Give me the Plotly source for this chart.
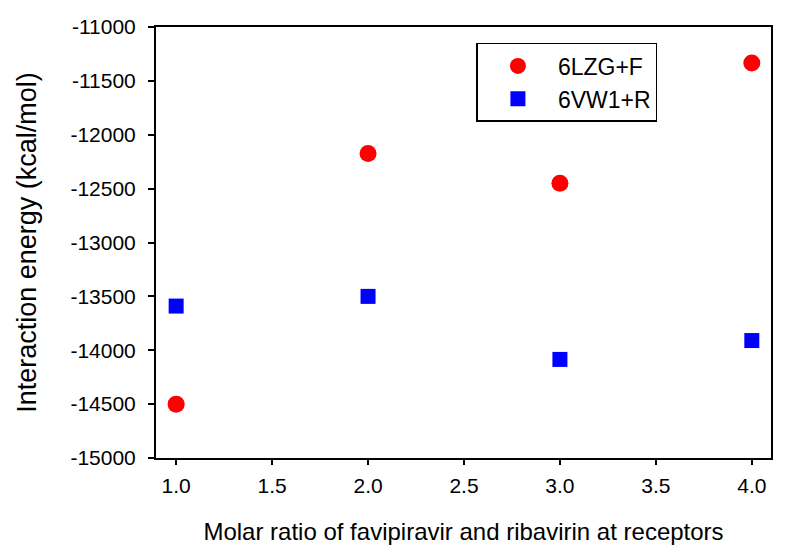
import plotly.graph_objects as go

ratios = [1.0, 2.0, 3.0, 4.0]
lzg_f = [-14500, -12175, -12450, -11335]
vw1_r = [-13590, -13500, -14085, -13910]
x_ticks = [1.0, 1.5, 2.0, 2.5, 3.0, 3.5, 4.0]
y_ticks = list(range(-15000, -10999, 500))

font_family = "Liberation Sans, Arial, sans-serif"

fig = go.Figure()
fig.add_trace(go.Scatter(x=ratios, y=lzg_f, mode="markers", name="6LZG+F",
                         marker=dict(symbol="circle", size=17, color="#ff0000")))
fig.add_trace(go.Scatter(x=ratios, y=vw1_r, mode="markers", name="6VW1+R",
                         marker=dict(symbol="square", size=15, color="#0000ff")))

fig.update_layout(
    width=797, height=559,
    margin=dict(l=148, r=34, t=19, b=109),
    plot_bgcolor="white", paper_bgcolor="white",
    font=dict(family=font_family, size=21, color="black"),
    showlegend=True,
    legend=dict(x=0.521, y=0.963, xanchor="left", yanchor="top",
                bordercolor="black", borderwidth=1.5, bgcolor="white",
                font=dict(size=23), itemwidth=70,
                tracegroupgap=0),
    xaxis=dict(range=[0.895, 4.1], tickvals=x_ticks,
               ticktext=[f"{v:.1f}" for v in x_ticks],
               showgrid=False, zeroline=False, showline=True, linecolor="black",
               linewidth=2, mirror=True, ticks="outside", ticklen=5,
               tickwidth=2, tickcolor="black", ticklabelstandoff=3,
               automargin=False,
               title=dict(text="Molar ratio of favipiravir and ribavirin at receptors",
                          font=dict(size=24), standoff=27)),
    yaxis=dict(range=[-15000, -11000], tickvals=y_ticks,
               ticktext=[str(v) for v in y_ticks],
               showgrid=False, zeroline=False, showline=True, linecolor="black",
               linewidth=2, mirror=True, ticks="outside", ticklen=6,
               tickwidth=2, tickcolor="black", ticklabelstandoff=8,
               automargin=False,
               title=dict(text="Interaction energy (kcal/mol)",
                          font=dict(size=27), standoff=26)),
)

fig.write_html("out.html")
